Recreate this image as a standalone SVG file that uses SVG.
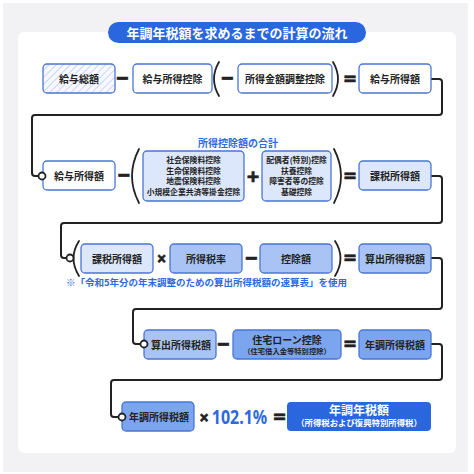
<svg xmlns="http://www.w3.org/2000/svg" width="474" height="474" viewBox="0 0 474 474">
<defs>
<pattern id="hatch" patternUnits="userSpaceOnUse" width="5" height="5" patternTransform="rotate(45)">
<rect width="5" height="5" fill="#f7f9fe"/>
<line x1="0" y1="0" x2="0" y2="5" stroke="#a9bff0" stroke-width="1.2"/>
</pattern>
<style>
text{font-family:"Noto Sans CJK JP","Noto Sans",sans-serif;font-weight:bold;text-anchor:middle}
.box{stroke:#4a76d6;stroke-width:1.3}
.w{fill:#ffffff}
.l{fill:#dce7fb}
.m{fill:#a9c4f4}
.d{fill:#7ba5ef}
.t{font-size:10px;fill:#222}
.s{font-size:7.8px;fill:#222}
.op{font-family:"Noto Sans","DejaVu Sans",sans-serif;font-size:22px;fill:#222;stroke:#222;stroke-width:0.6}
.par{fill:none;stroke:#222;stroke-width:1.8;stroke-linecap:round}
.conn{fill:none;stroke:#222;stroke-width:2;stroke-linejoin:round}
.dot{fill:#fff;stroke:#222;stroke-width:1.8}
</style>
</defs>
<rect x="0" y="0" width="474" height="474" fill="#ffffff"/>
<rect x="3" y="3" width="465" height="469" fill="#f2f2f5"/>
<rect x="18" y="32" width="438" height="421" rx="6" fill="#ffffff"/>
<g id="title">
<rect x="108" y="22" width="258" height="21" rx="10.5" fill="#2a66de"/>
<text x="237" y="37.5" style="font-size:13px;fill:#fff">年調年税額を求めるまでの計算の流れ</text>
</g>

<g id="connectors">
<path class="conn" d="M431,79 H439 Q442,79 442,82 V112 Q442,115 439,115 H35 Q32,115 32,118 V173 Q32,176 35,176 H40"/>
<path class="conn" d="M431,176 H439 Q442,176 442,179 V220 Q442,223 439,223 H64 Q61,223 61,226 V255 Q61,258 64,258 H68"/>
<path class="conn" d="M431,258 H439 Q442,258 442,261 V306 Q442,309 439,309 H136 Q133,309 133,312 V341 Q133,344 136,344 H142"/>
<path class="conn" d="M431,344 H439 Q442,344 442,347 V377 Q442,380 439,380 H114 Q111,380 111,383 V414 Q111,417 114,417 H120"/>
</g>

<g id="row1">
<g id="n1"><rect class="box" x="43" y="64" width="72" height="29" rx="4" fill="url(#hatch)"/><text class="t" x="79" y="82.5">給与総額</text></g>
<text class="op" x="122.5" y="86">−</text>
<g id="n2"><rect class="box w" x="133" y="64" width="79" height="29" rx="4"/><text class="t" x="172.5" y="82.5">給与所得控除</text></g>
<path class="par" d="M219,62 Q209,79 219,96"/>
<text class="op" x="227.5" y="86">−</text>
<g id="n3"><rect class="box w" x="238" y="64" width="94" height="29" rx="4"/><text class="t" x="285" y="82.5">所得金額調整控除</text></g>
<path class="par" d="M333,62 Q343,79 333,96"/>
<text class="op" x="350" y="86">=</text>
<g id="n4"><rect class="box w" x="359" y="64" width="72" height="29" rx="4"/><text class="t" x="395" y="82.5">給与所得額</text></g>
</g>

<g id="row2">
<g id="n5"><rect class="box w" x="43" y="161" width="72" height="29" rx="4"/><text class="t" x="79" y="179.5">給与所得額</text></g>
<text class="op" x="124" y="183">−</text>
<path class="par" d="M139,149 Q125,176 139,203"/>
<text x="238" y="146.5" style="font-size:10px;fill:#2d69e0">所得控除額の合計</text>
<g id="n6"><rect class="box l" x="143" y="151" width="101" height="50" rx="4"/>
<text class="s" x="193.5" y="163">社会保険料控除</text>
<text class="s" x="193.5" y="173.7">生命保険料控除</text>
<text class="s" x="193.5" y="184.4">地震保険料控除</text>
<text class="s" x="193.5" y="195.1">小規模企業共済等掛金控除</text></g>
<text class="op" x="253" y="184">+</text>
<g id="n7"><rect class="box l" x="262" y="151" width="69" height="50" rx="4"/>
<text class="s" x="296.5" y="163">配偶者(特別)控除</text>
<text class="s" x="296.5" y="173.7">扶養控除</text>
<text class="s" x="296.5" y="184.4">障害者等の控除</text>
<text class="s" x="296.5" y="195.1">基礎控除</text></g>
<path class="par" d="M334,149 Q348,176 334,203"/>
<text class="op" x="350" y="183">=</text>
<g id="n8"><rect class="box l" x="359" y="161" width="72" height="29" rx="4"/><text class="t" x="395" y="179.5">課税所得額</text></g>
</g>

<g id="row3">
<path class="par" d="M79,241 Q68,258 79,276"/>
<g id="n9"><rect class="box l" x="81" y="244" width="72" height="29" rx="4"/><text class="t" x="117" y="262.5">課税所得額</text></g>
<text class="op" x="161.5" y="265" style="font-size:17px">×</text>
<g id="n10"><rect class="box m" x="170" y="244" width="72" height="29" rx="4"/><text class="t" x="206" y="262.5">所得税率</text></g>
<text class="op" x="251.5" y="266">−</text>
<g id="n11"><rect class="box m" x="260" y="244" width="72" height="29" rx="4"/><text class="t" x="296" y="262.5">控除額</text></g>
<path class="par" d="M335,241 Q346,258 335,276"/>
<text class="op" x="350" y="265">=</text>
<g id="n12"><rect class="box m" x="359" y="244" width="72" height="29" rx="4"/><text class="t" x="395" y="262.5">算出所得税額</text></g>
<text x="66" y="286" style="font-size:9.5px;fill:#2d69e0;text-anchor:start" textLength="281">※「令和5年分の年末調整のための算出所得税額の速算表」を使用</text>
</g>

<g id="row4">
<g id="n13"><rect class="box m" x="144" y="330" width="72" height="29" rx="4"/><text class="t" x="181" y="348.5">算出所得税額</text></g>
<text class="op" x="223.5" y="352">−</text>
<g id="n14"><rect class="box d" x="233" y="330" width="108" height="29" rx="4"/>
<text class="t" x="287" y="343.5">住宅ローン控除</text>
<text x="287" y="354" style="font-size:7.3px;fill:#222">（住宅借入金等特別控除）</text></g>
<text class="op" x="350" y="351">=</text>
<g id="n15"><rect class="box d" x="359" y="330" width="72" height="29" rx="4"/><text class="t" x="395" y="348.5">年調所得税額</text></g>
</g>

<g id="row5">
<g id="n16"><rect class="box d" x="122" y="402" width="72" height="29" rx="4"/><text class="t" x="159" y="420.5">年調所得税額</text></g>
<text class="op" x="204" y="424" style="font-size:17px">×</text>
<text transform="translate(239.5,423.5) scale(1,1.18)" x="0" y="0" style="font-family:'Noto Sans',sans-serif;font-size:16px;fill:#2d69e0">102.1%</text>
<text class="op" x="279.5" y="424">=</text>
<g id="n17"><rect x="287" y="402" width="144" height="29" rx="4" fill="#2a66de"/>
<text x="359" y="414.5" style="font-size:12px;fill:#fff">年調年税額</text>
<text x="359" y="426" style="font-size:8.4px;fill:#fff">（所得税および復興特別所得税）</text></g>
</g>

<g id="dots">
<circle class="dot" cx="42" cy="176" r="3.5"/>
<circle class="dot" cx="70" cy="258" r="3.5"/>
<circle class="dot" cx="144" cy="344" r="3.5"/>
<circle class="dot" cx="122" cy="417" r="3.5"/>
</g>
</svg>
